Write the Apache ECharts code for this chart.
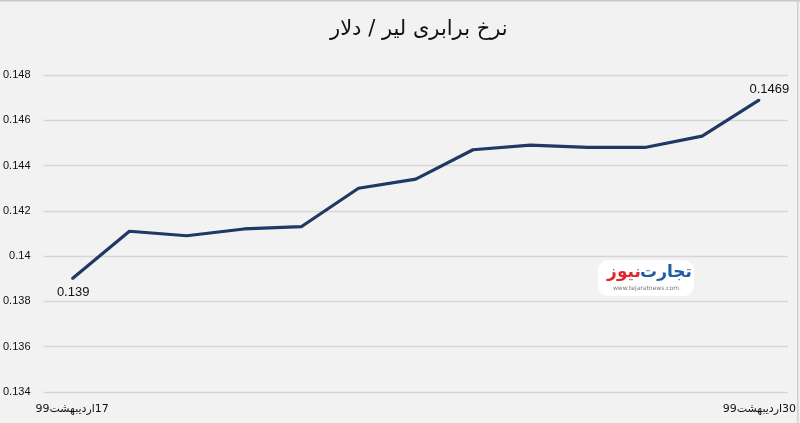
<!DOCTYPE html>
<html>
<head>
<meta charset="utf-8">
<script src="https://cdn.jsdelivr.net/npm/echarts@6/dist/echarts.min.js"></script>
<style>
html,body{margin:0;padding:0;background:#f2f2f2;}
#c{width:800px;height:423px;}
</style>
</head>
<body>
<div id="c"></div>
<script>
const titleText = 'نرخ برابری لیر / دلار';
const categories = ['17اردیبهشت99','18اردیبهشت99','20اردیبهشت99','21اردیبهشت99','22اردیبهشت99','23اردیبهشت99','24اردیبهشت99','25اردیبهشت99','26اردیبهشت99','27اردیبهشت99','28اردیبهشت99','29اردیبهشت99','30اردیبهشت99'];
const rates = [0.1390, 0.1411, 0.1409, 0.1412, 0.1413, 0.1430, 0.1434, 0.1447, 0.1449, 0.1448, 0.1448, 0.1453, 0.1469];
const yTicks = [0.134, 0.136, 0.138, 0.14, 0.142, 0.144, 0.146, 0.148];

const chart = echarts.init(document.getElementById('c'), null, {renderer:'canvas'});
const last = rates.length - 1;
chart.setOption({
  backgroundColor: '#f2f2f2',
  animation: false,
  title: {
    text: titleText,
    left: 325,
    top: 14,
    textStyle: {fontFamily: 'DejaVu Sans', fontSize: 21, fontWeight: 'normal', color: '#111'}
  },
  grid: {left: 42, right: 12, top: 75, bottom: 31, containLabel: false},
  xAxis: {
    type: 'category',
    data: categories,
    boundaryGap: true,
    axisLine: {show: false},
    axisTick: {show: false},
    axisLabel: {
      interval: function (i) { return i === 0 || i === last; },
      margin: 12,
      fontFamily: 'DejaVu Sans',
      fontSize: 11,
      color: '#111',
      formatter: function (v) { return '\u202B' + v + '\u202C'; }
    }
  },
  yAxis: {
    type: 'value',
    min: yTicks[0],
    max: yTicks[yTicks.length - 1],
    interval: 0.002,
    axisLine: {show: false},
    axisTick: {show: false},
    splitLine: {lineStyle: {color: '#d6d6d6', width: 1.3}},
    axisLabel: {
      margin: 13,
      fontFamily: 'Liberation Sans',
      fontSize: 11,
      color: '#111',
      formatter: function (v) { return String(+v.toFixed(3)); }
    }
  },
  series: [{
    type: 'line',
    data: rates,
    showSymbol: true,
    symbol: 'circle',
    symbolSize: 2,
    itemStyle: {color: '#1f3864'},
    lineStyle: {color: '#1f3864', width: 3.2},
    label: {
      show: true,
      fontFamily: 'Liberation Sans',
      fontSize: 13,
      color: '#111',
      position: 'top',
      formatter: function (p) { return p.dataIndex === 0 || p.dataIndex === last ? String(p.value) : ''; }
    },
    labelLayout: function (p) {
      if (p.dataIndex === 0) {
        return {x: p.rect.x + p.rect.width / 2 + 1, y: p.rect.y + p.rect.height + 19, align: 'center', verticalAlign: 'bottom'};
      }
      if (p.dataIndex === last) {
        return {x: p.rect.x + p.rect.width / 2 + 10, y: p.rect.y + p.rect.height - 5, align: 'center', verticalAlign: 'bottom'};
      }
      return {};
    }
  }],
  graphic: [
    {type: 'rect', shape: {x: 0, y: 0, width: 800, height: 1.5}, style: {fill: '#c8c8c8'}, silent: true},
    {type: 'rect', shape: {x: 797, y: 0, width: 1.5, height: 423}, style: {fill: '#d0d0d0'}, silent: true},
    {type: 'rect', shape: {x: 598, y: 260, width: 96, height: 36, r: 10}, style: {fill: '#ffffff'}, silent: true},
    {type: 'text', x: 666, y: 273, style: {text: 'تجارت', fontFamily: 'DejaVu Sans', fontSize: 17, fontWeight: 'bold', fill: '#1f5ca8', align: 'center', verticalAlign: 'middle'}, silent: true},
    {type: 'text', x: 624, y: 273, style: {text: 'نیوز', fontFamily: 'DejaVu Sans', fontSize: 17, fontWeight: 'bold', fill: '#e2262c', align: 'center', verticalAlign: 'middle'}, silent: true},
    {type: 'text', x: 646, y: 288, style: {text: 'www.tejaratnews.com', fontFamily: 'DejaVu Sans', fontSize: 6, fill: '#777', align: 'center', verticalAlign: 'middle'}, silent: true}
  ]
});
</script>
</body>
</html>
